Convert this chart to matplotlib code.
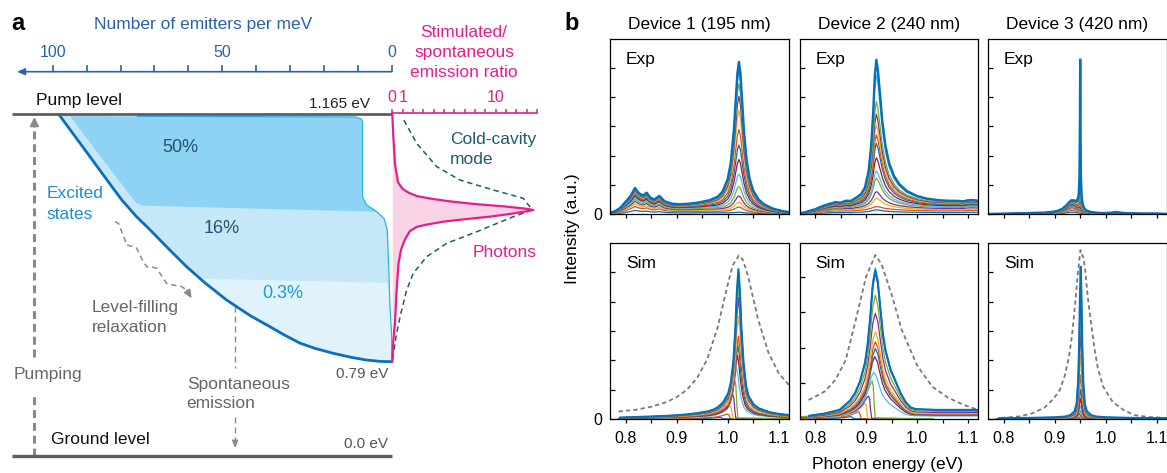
import numpy as np
import matplotlib.pyplot as plt

plt.rcParams['font.family'] = ['Liberation Sans', 'DejaVu Sans']

W, H = 1167, 473
fig = plt.figure(figsize=(W / 100, H / 100), dpi=100)

# ---------------- panel a data ----------------
pump_energy = 1.165
floor_energy = 0.79
ground_draw = 0.6475   # 0.0 eV ground level, drawn on a broken axis below 0.79 eV

# density of emitters (per meV) vs energy (eV)
dos_energy = [1.165, 1.10, 1.06, 1.035, 1.01, 0.99, 0.96, 0.934, 0.91, 0.8835,
              0.86, 0.843, 0.83, 0.818, 0.81, 0.8027, 0.797, 0.7925, 0.7905, 0.79]
dos_count = [98.2, 88.9, 83.2, 79.6, 75.3, 71.3, 65.6, 60.5, 55.2, 48.7,
             41.8, 35.9, 31.5, 27.0, 22.5, 17.2, 12.3, 7.4, 3.5, 0.0]

# right edge of the populated states
edge_energy = [1.162, 1.161, 1.158, 1.154, 1.04, 1.0275, 1.0174, 1.0074, 0.9896, 0.949, 0.873, 0.828, 0.79]
edge_count = [75.0, 10.6, 9.0, 8.6, 8.6, 7.4, 4.4, 2.3, 1.3, 1.0, 0.5, 0.0, 0.0]

# 50 % occupation block
half_energy = [1.162, 1.161, 1.158, 1.154, 1.04, 1.0275, 1.0174, 1.0265, 1.031]
half_count = [94.9, 10.6, 9.0, 8.6, 8.6, 7.4, 4.4, 73.5, 75.5]

# lower border of the 16 % block
band16_energy = [0.916, 0.9095]
band16_count = [56.3, 0.9]

# stimulated/spontaneous emission ratio (photons) and cold-cavity mode
photon_energy = [1.165, 1.131, 1.09, 1.062, 1.052, 1.046, 1.041, 1.037, 1.033, 1.029, 1.0255,
                 1.022, 1.020, 1.018, 1.014, 1.0098, 1.006, 1.0022, 0.998, 0.9946, 0.988,
                 0.9745, 0.96, 0.939, 0.8987, 0.8482, 0.823, 0.79]
photon_ratio = [0.0, 0.1, 0.26, 0.55, 1.0, 1.6, 2.4, 3.8, 5.6, 8.0, 10.8,
                12.9, 13.65, 13.0, 11.4, 9.4, 7.0, 4.9, 3.4, 2.4, 1.7,
                1.2, 0.85, 0.6, 0.42, 0.26, 0.1, 0.0]
cavity_energy = [1.1562, 1.121, 1.0856, 1.0654, 1.0503, 1.0377, 1.020, 1.0098, 0.987,
                 0.9695, 0.9493, 0.924, 0.8987, 0.8582, 0.8279, 0.79]
cavity_ratio = [1.12, 2.36, 4.3, 6.55, 9.78, 12.68, 13.55, 11.7, 8.17,
                5.27, 3.33, 2.03, 1.39, 0.75, 0.36, 0.0]

# level-filling relaxation squiggle
relax_count = [81.6, 80.6, 78.7, 78.2, 76.2, 75.2, 73.3, 72.3, 70.3, 69.3, 67.4, 66.4, 64.4, 61.9, 60.5, 59.0]
relax_energy = [1.0022, 0.9998, 0.9745, 0.9669, 0.9643, 0.9619, 0.9416, 0.9340, 0.9331, 0.9316,
                0.9164, 0.9088, 0.9063, 0.9037, 0.8987, 0.8861]

emit_ticks = list(range(0, 101, 10))
ratio_ticks = list(range(0, 15))

# ---------------- panel b data ----------------
matlab_colors = ['#0072BD', '#D95319', '#EDB120', '#7E2F8E', '#77AC30', '#4DBEEE', '#A2142F']

exp1_energy = [0.770, 0.780, 0.790, 0.800, 0.810, 0.818, 0.826, 0.834, 0.841, 0.848,
               0.856, 0.866, 0.876, 0.890, 0.905, 0.920, 0.935, 0.950, 0.965, 0.980,
               0.990, 1.000, 1.006, 1.012, 1.016, 1.019, 1.022, 1.025, 1.028, 1.032,
               1.037, 1.043, 1.050, 1.060, 1.070, 1.080, 1.090, 1.100, 1.110, 1.120]
exp1_peak = [0.002, 0.002, 0.002, 0.002, 0.003, 0.003, 0.003, 0.003, 0.003, 0.004,
             0.004, 0.005, 0.005, 0.006, 0.008, 0.011, 0.014, 0.021, 0.033, 0.059,
             0.097, 0.186, 0.30, 0.52, 0.75, 0.92, 1.0, 0.92, 0.75, 0.52,
             0.33, 0.20, 0.123, 0.071, 0.046, 0.032, 0.023, 0.018, 0.014, 0.011]
exp1_bg = [0.04, 0.10, 0.22, 0.42, 0.62, 0.88, 0.70, 0.62, 0.72, 0.55,
           0.48, 0.60, 0.42, 0.33, 0.30, 0.30, 0.31, 0.32, 0.32, 0.30,
           0.29, 0.28, 0.27, 0.27, 0.26, 0.26, 0.25, 0.25, 0.24, 0.24,
           0.23, 0.22, 0.20, 0.16, 0.13, 0.10, 0.07, 0.05, 0.03, 0.02]
exp1_levels = [0.03, 0.17, 0.31, 0.5, 0.8, 1.21, 1.69, 2.17, 2.69, 3.33, 3.8, 4.23, 4.6, 4.8, 4.95]

exp2_energy = [0.770, 0.780, 0.790, 0.800, 0.810, 0.820, 0.830, 0.840, 0.850, 0.860,
               0.870, 0.880, 0.890, 0.898, 0.905, 0.910, 0.914, 0.917, 0.920, 0.923,
               0.927, 0.932, 0.938, 0.945, 0.955, 0.965, 0.980, 1.000, 1.020, 1.040,
               1.060, 1.080, 1.090, 1.100, 1.110, 1.120]
exp2_peak = [0.003, 0.003, 0.004, 0.004, 0.005, 0.006, 0.007, 0.009, 0.011, 0.015,
             0.02, 0.03, 0.05, 0.09, 0.2, 0.38, 0.62, 0.88, 1.0, 0.93,
             0.76, 0.55, 0.38, 0.26, 0.17, 0.12, 0.075, 0.045, 0.03, 0.022,
             0.017, 0.014, 0.013, 0.012, 0.011, 0.01]
exp2_bg = [0.02, 0.05, 0.10, 0.15, 0.22, 0.28, 0.33, 0.37, 0.34, 0.39,
           0.36, 0.42, 0.45, 0.5, 0.55, 0.58, 0.6, 0.6, 0.6, 0.6,
           0.6, 0.58, 0.56, 0.54, 0.5, 0.47, 0.44, 0.41, 0.39, 0.38,
           0.38, 0.39, 0.38, 0.42, 0.43, 0.41]
exp2_levels = [0.06, 0.08, 0.31, 0.47, 0.88, 1.09, 1.5, 1.96, 2.22, 2.54, 2.88, 3.29, 4.18, 4.56, 4.67]

exp3_energy = [0.770, 0.800, 0.830, 0.860, 0.880, 0.895, 0.905, 0.915, 0.922, 0.928,
               0.933, 0.938, 0.942, 0.945, 0.947, 0.9485, 0.9495, 0.950, 0.9505, 0.9515,
               0.953, 0.955, 0.958, 0.962, 0.970, 0.985, 1.000, 1.012, 1.020, 1.028,
               1.040, 1.070, 1.100, 1.120]
exp3_peak = [0.0, 0.0, 0.0, 0.001, 0.001, 0.002, 0.002, 0.003, 0.004, 0.005,
             0.006, 0.01, 0.02, 0.04, 0.08, 0.2, 0.6, 1.0, 0.6, 0.2,
             0.08, 0.04, 0.02, 0.012, 0.006, 0.003, 0.002, 0.001, 0.001, 0.001,
             0.001, 0.001, 0.001, 0.0]
exp3_bg = [0.01, 0.02, 0.03, 0.04, 0.05, 0.07, 0.1, 0.17, 0.27, 0.38,
           0.45, 0.42, 0.35, 0.3, 0.27, 0.25, 0.24, 0.23, 0.22, 0.2,
           0.17, 0.14, 0.1, 0.07, 0.05, 0.03, 0.03, 0.05, 0.07, 0.05,
           0.03, 0.02, 0.02, 0.01]
exp3_levels = [0.0, 0.02, 0.04, 0.07, 0.1, 0.15, 0.22, 0.3, 0.45, 0.65, 0.95, 1.4, 2.3, 3.5, 5.05]

exp_bg_weights = [0.15, 0.3, 0.4, 0.5, 0.58, 0.65, 0.71, 0.76, 0.81, 0.85, 0.89, 0.93, 0.96, 0.98, 1.0]

# simulated spectra: line shapes vs offset from each curve's peak energy
sim_low_offset = [-0.20, -0.15, -0.10, -0.07, -0.05, -0.035, -0.025, -0.018, -0.012, -0.007,
                  -0.003, 0.0, 0.002, 0.004, 0.006, 0.12]
sim_low_value = [0.03, 0.05, 0.08, 0.12, 0.18, 0.26, 0.36, 0.48, 0.63, 0.8,
                 0.94, 1.0, 0.85, 0.35, 0.02, 0.0]

sim1_high_offset = [-0.232, -0.2, -0.15, -0.12, -0.1, -0.08, -0.06, -0.05, -0.04, -0.03,
                    -0.02, -0.015, -0.01, -0.006, -0.003, 0.0, 0.003, 0.006, 0.01, 0.015,
                    0.02, 0.03, 0.04, 0.06, 0.08, 0.1]
sim1_high_value = [0.008, 0.012, 0.018, 0.024, 0.03, 0.038, 0.05, 0.06, 0.078, 0.11,
                   0.17, 0.24, 0.38, 0.6, 0.85, 1.0, 0.85, 0.6, 0.38, 0.22,
                   0.15, 0.095, 0.07, 0.045, 0.032, 0.025]
sim1_heights = [0.05, 0.16, 0.43, 0.83, 1.32, 1.75, 2.17, 2.51, 2.82, 3.50, 4.14, 4.55, 4.85, 5.02, 5.11]
sim1_centers = [0.985, 1.000, 1.005, 1.010, 1.014, 1.017, 1.019, 1.020, 1.021, 1.021,
                1.021, 1.021, 1.021, 1.021, 1.021]

sim2_high_offset = [-0.13, -0.1, -0.07, -0.05, -0.04, -0.03, -0.02, -0.015, -0.01, -0.005,
                    0.0, 0.005, 0.01, 0.015, 0.02, 0.03, 0.04, 0.05, 0.06, 0.07,
                    0.08, 0.12, 0.21]
sim2_high_value = [0.02, 0.035, 0.06, 0.12, 0.17, 0.25, 0.38, 0.5, 0.68, 0.9,
                   1.0, 0.92, 0.74, 0.57, 0.46, 0.33, 0.25, 0.17, 0.11, 0.075,
                   0.065, 0.06, 0.06]
sim2_heights = [0.06, 0.2, 0.43, 0.64, 1.06, 1.31, 1.75, 1.98, 2.17, 2.45, 2.97, 3.48, 4.26, 4.12, 4.18]
sim2_centers = [0.870, 0.885, 0.898, 0.905, 0.912, 0.915, 0.917, 0.918, 0.918, 0.918,
                0.918, 0.918, 0.918, 0.918, 0.918]

sim3_high_offset = [-0.16, -0.1, -0.05, -0.03, -0.02, -0.012, -0.008, -0.005, -0.003, -0.0015,
                    0.0, 0.0015, 0.003, 0.005, 0.008, 0.012, 0.02, 0.03, 0.05, 0.1, 0.17]
sim3_high_value = [0.004, 0.006, 0.01, 0.015, 0.025, 0.05, 0.1, 0.25, 0.5, 0.8,
                   1.0, 0.8, 0.5, 0.25, 0.1, 0.05, 0.025, 0.015, 0.01, 0.006, 0.004]
sim3_heights = [0.03, 0.06, 0.1, 0.18, 0.3, 0.45, 0.69, 1.0, 1.5, 2.2, 3.0, 3.8, 4.5, 5.0, 5.19]
sim3_centers = [0.944, 0.946, 0.947, 0.948, 0.949, 0.950, 0.9505, 0.951, 0.951, 0.951,
                0.951, 0.951, 0.951, 0.951, 0.951]

sim_kind = [0, 0, 0, 0, 0, 1, 1, 1, 1, 1, 1, 1, 1, 1, 1]

sim1_cav_energy = [0.786, 0.82, 0.85, 0.88, 0.90, 0.92, 0.94, 0.96, 0.98, 1.00, 1.01, 1.022,
                   1.03, 1.04, 1.06, 1.08, 1.10, 1.12]
sim1_cav_value = [0.25, 0.31, 0.41, 0.57, 0.74, 0.99, 1.39, 2.04, 3.10, 4.58, 5.24, 5.58,
                  5.42, 4.86, 3.37, 2.25, 1.56, 1.15]
sim2_cav_energy = [0.787, 0.80, 0.82, 0.84, 0.86, 0.88, 0.90, 0.918, 0.93, 0.95, 0.97,
                   1.00, 1.03, 1.06, 1.09, 1.12]
sim2_cav_value = [0.53, 0.62, 0.78, 1.1, 1.65, 2.8, 4.0, 4.61, 4.36, 3.5, 2.5,
                  1.5, 0.9, 0.6, 0.4, 0.25]
sim3_cav_energy = [0.795, 0.83, 0.855, 0.88, 0.898, 0.91, 0.92, 0.928, 0.934, 0.940, 0.945,
                   0.9505, 0.956, 0.9594, 0.964, 0.970, 0.978, 0.9847, 0.995, 1.0135, 1.035,
                   1.057, 1.085, 1.115]
sim3_cav_value = [0.03, 0.08, 0.18, 0.38, 0.69, 0.98, 1.49, 2.1, 2.86, 3.9, 4.9,
                  5.76, 5.5, 5.13, 4.3, 3.42, 2.4, 1.72, 1.1, 0.58, 0.3,
                  0.125, 0.06, 0.034]

device_titles = ['Device 1 (195 nm)', 'Device 2 (240 nm)', 'Device 3 (420 nm)']


def ptext(px, py, s, **kw):
    # place text by pixel position; nudge centred text so the glyphs sit on the row
    if kw.get('va') == 'center' and kw.get('rotation', 0) == 0:
        py += 1
    fig.text(px / W, 1 - py / H, s, **kw)


# ---------------- panel a ----------------
pink = '#e61e8c'
teal = '#1d5b6e'
axis_blue = '#2a62aa'
gray_txt = '#666666'
arrow_gray = '#8a8a8a'

ax_a = fig.add_axes([0, 0, 391.7 / W, 1])
ax_a.set_xlim(115.55, 0)
ax_a.set_ylim(0.6213, 1.3383)
ax_a.axis('off')
ax_r = fig.add_axes([392.3 / W, 0, 168 / W, 1])
ax_r.set_xlim(0, 16.26)
ax_r.set_ylim(0.6213, 1.3383)
ax_r.axis('off')

ax_a.fill(dos_count + edge_count[::-1], dos_energy + edge_energy[::-1],
          color='#e0f2fc', lw=0, zorder=1)
top_dos = [(n, e) for n, e in zip(dos_count, dos_energy) if e > band16_energy[0]]
top_edge = [(n, e) for n, e in zip(edge_count, edge_energy) if e > band16_energy[1]][::-1]
band_pts = top_dos + list(zip(band16_count, band16_energy)) + top_edge
ax_a.fill([p[0] for p in band_pts], [p[1] for p in band_pts], color='#c5e7f8', lw=0, zorder=1)
ax_a.fill(half_count, half_energy, color='#8ed3f4', lw=0, zorder=1)
ax_a.plot(edge_count, edge_energy, color='#22b5ea', lw=0.9, zorder=2)
ax_a.plot(dos_count, dos_energy, color='#0a70bb', lw=2.0, zorder=3, solid_capstyle='round')

ax_a.plot([112.1, 0], [pump_energy, pump_energy], color='#5e5e5e', lw=2.0, zorder=4,
          clip_on=False, solid_capstyle='butt')
ax_a.plot([112.1, 0], [ground_draw, ground_draw], color='#5e5e5e', lw=2.4, zorder=4,
          clip_on=False, solid_capstyle='butt')

# top axis: number of emitters per meV
emit_axis_y = 1.2296
ax_a.annotate('', xy=(110.5, emit_axis_y), xytext=(0, emit_axis_y),
              arrowprops=dict(arrowstyle='-|>,head_length=0.45,head_width=0.2', color=axis_blue,
                              lw=1.2, shrinkA=0, shrinkB=0), annotation_clip=False)
ax_a.vlines(emit_ticks, emit_axis_y, emit_axis_y + 0.0101, color=axis_blue, lw=1.2, clip_on=False)

# pumping arrow
ax_a.plot([105.4, 105.4], [ground_draw, 0.7395], color=arrow_gray, lw=2.2, dashes=(2.6, 1.6))
ax_a.plot([105.4, 105.4], [0.7976, 1.150], color=arrow_gray, lw=2.2, dashes=(2.6, 1.6))
ax_a.annotate('', xy=(105.4, 1.161), xytext=(105.4, 1.146),
              arrowprops=dict(arrowstyle='-|>,head_length=0.5,head_width=0.25', color=arrow_gray,
                              lw=1.5, shrinkA=0, shrinkB=0))

# spontaneous emission arrow
ax_a.plot([46.2, 46.2], [0.874, 0.780], color=arrow_gray, lw=1.0, dashes=(4.3, 2.9))
ax_a.plot([46.2, 46.2], [0.7066, 0.664], color=arrow_gray, lw=1.0, dashes=(4.3, 2.9))
ax_a.annotate('', xy=(46.2, 0.6587), xytext=(46.2, 0.668),
              arrowprops=dict(arrowstyle='-|>,head_length=0.45,head_width=0.18', color=arrow_gray,
                              lw=1.0, shrinkA=0, shrinkB=0))

# level-filling relaxation
ax_a.plot(relax_count[:-1], relax_energy[:-1], color=arrow_gray, lw=1.1, dashes=(3.5, 2.5))
ax_a.annotate('', xy=(relax_count[-1], relax_energy[-1]), xytext=(relax_count[-2], relax_energy[-2]),
              arrowprops=dict(arrowstyle='-|>,head_length=0.5,head_width=0.22', color=arrow_gray,
                              lw=1.0, shrinkA=0, shrinkB=0))

# ratio axis
ratio_axis_y = 1.1665
ax_r.plot([0, 14], [ratio_axis_y, ratio_axis_y], color=pink, lw=1.2, clip_on=False, zorder=5)
ax_r.vlines(ratio_ticks, ratio_axis_y, ratio_axis_y + 0.006, color=pink, lw=1.1, clip_on=False)
ax_r.fill_betweenx(photon_energy, 0, photon_ratio, color='#f8d3e5', lw=0, zorder=1)
ax_r.plot(photon_ratio, photon_energy, color=pink, lw=1.6, clip_on=False, zorder=3)
ax_r.plot(cavity_ratio, cavity_energy, color=teal, lw=1.1, dashes=(3.5, 2.5), zorder=2)

# panel a text
fs = 12.5
ptext(11, 30, 'a', fontsize=17, fontweight='bold', va='baseline')
ptext(203, 23.3, 'Number of emitters per meV', color=axis_blue, fontsize=fs, ha='center', va='center')
for px, s in [(52.7, '100'), (222, '50'), (391.5, '0')]:
    ptext(px, 51.7, s, color=axis_blue, fontsize=11.5, ha='center', va='center')
for py, s in [(31.7, 'Stimulated/'), (51.7, 'spontaneous'), (71.7, 'emission ratio')]:
    ptext(464, py, s, color=pink, fontsize=fs, ha='center', va='center')
for px, s in [(392, '0'), (403, '1'), (496, '10')]:
    ptext(px, 96.7, s, color=pink, fontsize=11.5, ha='center', va='center')
ptext(35.7, 100, 'Pump level', color='#111111', fontsize=fs, va='center')
ptext(370, 102.7, '1.165 eV', color='#222222', fontsize=11, ha='right', va='center')
ptext(180, 146.7, '50%', color='#24506b', fontsize=13, ha='center', va='center')
ptext(221.7, 227.7, '16%', color='#24506b', fontsize=13, ha='center', va='center')
ptext(283, 292.3, '0.3%', color='#1f9ad6', fontsize=13, ha='center', va='center')
ptext(450, 138.3, 'Cold-cavity', color=teal, fontsize=fs, va='center')
ptext(450, 158.3, 'mode', color=teal, fontsize=fs, va='center')
ptext(472.3, 251.7, 'Photons', color=pink, fontsize=fs, va='center')
ptext(46.7, 192, 'Excited', color='#1e8fd5', fontsize=fs, va='center')
ptext(46.7, 213, 'states', color='#1e8fd5', fontsize=fs, va='center')
ptext(91.7, 306.7, 'Level-filling', color=gray_txt, fontsize=fs, va='center')
ptext(91.7, 326.7, 'relaxation', color=gray_txt, fontsize=fs, va='center')
ptext(13.3, 373.3, 'Pumping', color=gray_txt, fontsize=fs, va='center')
ptext(186.7, 383.3, 'Spontaneous', color=gray_txt, fontsize=fs, va='center')
ptext(186.7, 402.7, 'emission', color=gray_txt, fontsize=fs, va='center')
ptext(388.3, 373.3, '0.79 eV', color='#555555', fontsize=11, ha='right', va='center')
ptext(51, 438.3, 'Ground level', color='#111111', fontsize=fs, va='center')
ptext(388.3, 442.7, '0.0 eV', color='#555555', fontsize=11, ha='right', va='center')

# ---------------- panel b ----------------
box_left = [610.3, 799.7, 988.3]
box_top = [38.7, 243.3]
box_w, box_h = 178.5, 175.5

exp_sets = [(exp1_energy, exp1_peak, exp1_bg, exp1_levels),
            (exp2_energy, exp2_peak, exp2_bg, exp2_levels),
            (exp3_energy, exp3_peak, exp3_bg, exp3_levels)]
sim_sets = [(sim1_heights, sim1_centers, sim_low_offset, sim_low_value, sim1_high_offset, sim1_high_value,
             sim1_cav_energy, sim1_cav_value),
            (sim2_heights, sim2_centers, sim_low_offset, sim_low_value, sim2_high_offset, sim2_high_value,
             sim2_cav_energy, sim2_cav_value),
            (sim3_heights, sim3_centers, sim3_high_offset, sim3_high_value, sim3_high_offset, sim3_high_value,
             sim3_cav_energy, sim3_cav_value)]
ytops = [[5.99, 5.99, 5.99], [5.99, 4.94, 5.99]]


def make_box(row, col):
    ax = fig.add_axes([box_left[col] / W, 1 - (box_top[row] + box_h) / H, box_w / W, box_h / H])
    ax.set_xlim(0.7698, 1.1198)
    top = ytops[row][col]
    ax.set_ylim(0, top)
    ticks = list(range(0, int(top) + 1))
    ax.set_yticks(ticks)
    ax.set_yticklabels(['0' if (t == 0 and col == 0) else '' for t in ticks])
    ax.set_xticks([0.8, 0.9, 1.0, 1.1])
    ax.set_xticklabels(['0.8', '0.9', '1.0', '1.1'])
    ax.set_xticks([0.85, 0.95, 1.05], minor=True)
    ax.tick_params(axis='x', which='both', direction='out', length=3, width=0.9,
                   labelsize=11.5, pad=6, labelbottom=(row == 1))
    ax.tick_params(axis='y', direction='in', length=3.4, width=0.9, labelsize=11.5, pad=6)
    for s in ax.spines.values():
        s.set_linewidth(0.9)
    ptext(box_left[col] + 15.7, box_top[row] + 19.6, 'Exp' if row == 0 else 'Sim',
          fontsize=fs, va='center')
    return ax


for col in range(3):
    ax = make_box(0, col)
    energy, peak, bg, levels = exp_sets[col]
    n = len(levels)
    for i, (a, w) in enumerate(zip(levels, exp_bg_weights)):
        y = a * np.array(peak) + w * np.array(bg)
        ax.plot(energy, y, color=matlab_colors[i % 7], lw=1.7 if i == n - 1 else 0.9)
    ptext(box_left[col] + box_w / 2, 23, device_titles[col], fontsize=fs, ha='center', va='center')

for col in range(3):
    ax = make_box(1, col)
    heights, centers, lo_off, lo_val, hi_off, hi_val, cav_e, cav_v = sim_sets[col]
    ax.plot(cav_e, cav_v, color='#7a7a7a', lw=1.3, dashes=(2.4, 1.7), zorder=1)
    n = len(heights)
    for i, (h, c, k) in enumerate(zip(heights, centers, sim_kind)):
        off, val = (lo_off, lo_val) if k == 0 else (hi_off, hi_val)
        ax.plot(np.array(off) + c, h * np.array(val), color=matlab_colors[i % 7],
                lw=1.5 if i == n - 1 else 0.9, zorder=2)

ptext(564, 30, 'b', fontsize=17, fontweight='bold', va='baseline')
ptext(572, 228.7, 'Intensity (a.u.)', fontsize=fs, rotation=90, ha='center', va='center')
ptext(888, 463.3, 'Photon energy (eV)', fontsize=fs, ha='center', va='center')

fig.savefig('out.png', dpi=100)
